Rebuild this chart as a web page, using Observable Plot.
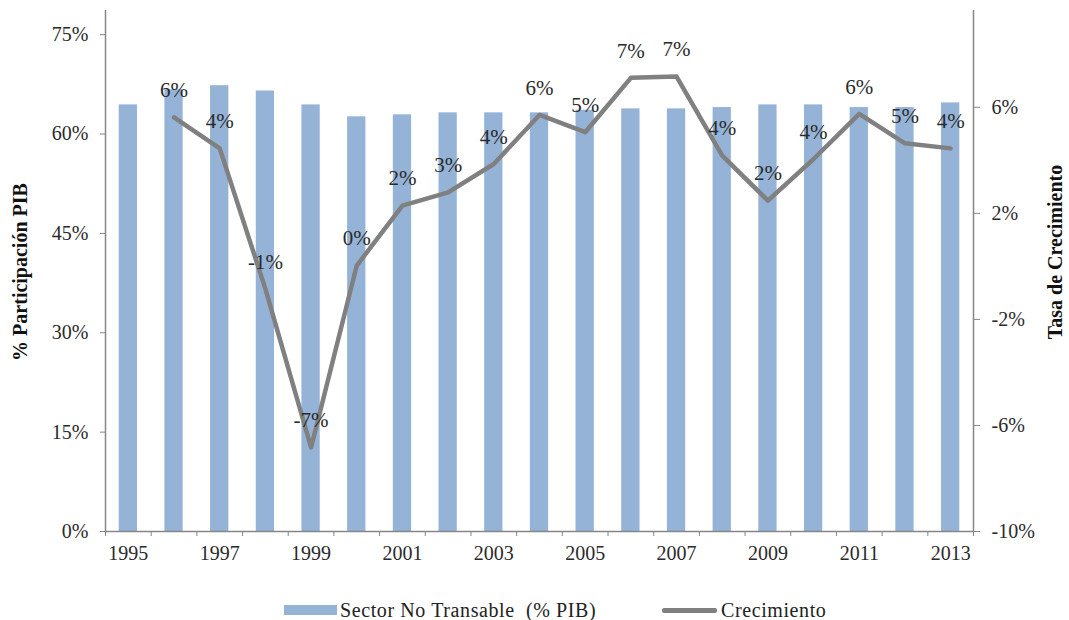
<!DOCTYPE html>
<html><head><meta charset="utf-8">
<script src="https://cdn.jsdelivr.net/npm/d3@7"></script>
<script src="https://cdn.jsdelivr.net/npm/@observablehq/plot@0.6"></script>
<style>
body{margin:0;background:#fff;font-family:"Liberation Serif","Times New Roman",serif;}
#wrap{position:relative;width:1069px;height:620px;background:#fff;}
#chart{position:absolute;left:0;top:0;}
.sw{position:absolute;}
.lt{position:absolute;line-height:24px;white-space:pre;font-size:20px;color:#222;letter-spacing:0.6px;}
</style></head><body>
<div id="wrap">
  <div id="chart"></div>
  <div class="sw" style="left:284px;top:605px;width:53px;height:10px;background:#95B3D7;"></div>
  <div class="lt" id="lg1" style="left:340px;top:598px;"></div>
  <div class="sw" style="left:662px;top:608px;width:55px;height:5px;border-radius:2px;background:#808080;"></div>
  <div class="lt" id="lg2" style="left:721px;top:598px;"></div>
</div>
<script>
const years = [1995,1996,1997,1998,1999,2000,2001,2002,2003,2004,2005,2006,2007,2008,2009,2010,2011,2012,2013];
const shareNoTransable = [0.644,0.667,0.673,0.665,0.644,0.626,0.629,0.632,0.632,0.632,0.636,0.638,0.638,0.640,0.644,0.644,0.640,0.640,0.647];
const growthYears = [1996,1997,1998,1999,2000,2001,2002,2003,2004,2005,2006,2007,2008,2009,2010,2011,2012,2013];
const growth = [0.0562,0.0445,-0.0085,-0.0683,0.0003,0.0229,0.0279,0.0386,0.0571,0.0506,0.0711,0.0716,0.0418,0.0248,0.0405,0.0575,0.0464,0.0445];
const leftTicks = [0,0.15,0.30,0.45,0.60,0.75];
const rightTicks = [-0.10,-0.06,-0.02,0.02,0.06];
const xLabelYears = [1995,1997,1999,2001,2003,2005,2007,2009,2011,2013];
const seriesNames = ["Sector No Transable  (% PIB)", "Crecimiento"];
const axisTitles = ["% Participación PIB", "Tasa de Crecimiento"];

document.getElementById("lg1").textContent = seriesNames[0];
document.getElementById("lg2").textContent = seriesNames[1];

const leftMax = 0.7865, rightMin = -0.10, rightMax = 0.0965;
const toLeft = v => (v - rightMin) / (rightMax - rightMin) * leftMax;
const fromLeft = u => u / leftMax * (rightMax - rightMin) + rightMin;

const barRows = years.map((y, i) => ({year: y, share: shareNoTransable[i]}));
const lineRows = growthYears.map((y, i) => ({year: y, growth: growth[i]}));
const boundaries = years.map(y => y - 0.5).concat([years[years.length - 1] + 0.5]);
const pct = v => Math.round(v * 100) + "%";

const axisColor = "#868686";
const textColor = "#2a2a2a";

const chart = Plot.plot({
  width: 1069, height: 580,
  marginLeft: 105, marginRight: 96, marginTop: 10, marginBottom: 49,
  x: {type: "linear", domain: [years[0] - 0.5, years[years.length - 1] + 0.5], axis: null},
  y: {domain: [0, leftMax], axis: null},
  style: {fontFamily: "Liberation Serif, Times New Roman, serif", fontSize: "20px", background: "#fff", color: textColor, overflow: "visible"},
  marks: [
    Plot.rectY(barRows, {x1: d => d.year - 0.2, x2: d => d.year + 0.2, y1: 0, y2: "share", fill: "#95B3D7"}),
    Plot.ruleX([years[0] - 0.5, years[years.length - 1] + 0.5], {stroke: axisColor, strokeWidth: 1.5}),
    Plot.ruleY([0], {stroke: axisColor, strokeWidth: 1.5}),
    Plot.axisY({ticks: leftTicks, anchor: "left", label: null, tickSize: 5, tickPadding: 12, tickFormat: pct, stroke: axisColor, fill: textColor, fontSize: 20}),
    Plot.axisY({ticks: rightTicks.map(toLeft), anchor: "right", label: null, tickSize: 6, tickPadding: 12, tickFormat: d => pct(fromLeft(d)), stroke: axisColor, fill: textColor, fontSize: 20}),
    Plot.axisX({ticks: boundaries, anchor: "bottom", label: null, tickSize: 5, tickFormat: () => "", stroke: axisColor}),
    Plot.axisX({ticks: xLabelYears, anchor: "bottom", label: null, tickSize: 0, tickPadding: 14, tickFormat: d => String(d), fill: textColor, fontSize: 20}),
    Plot.line(lineRows, {x: "year", y: d => toLeft(d.growth), stroke: "#808080", strokeWidth: 4.5, strokeLinejoin: "round"}),
    Plot.text(lineRows, {x: "year", y: d => toLeft(d.growth), text: d => pct(d.growth), dy: -27, fontSize: 21, fill: textColor}),
    Plot.text([axisTitles[0]], {frameAnchor: "left", textAnchor: "middle", rotate: -90, dx: -85, dy: 1, fontWeight: "bold", fontSize: 20, fill: "#111"}),
    Plot.text([axisTitles[1]], {frameAnchor: "right", textAnchor: "middle", rotate: -90, dx: 82, dy: -19, fontWeight: "bold", fontSize: 20, fill: "#111"})
  ]
});
document.getElementById("chart").appendChild(chart);
</script>
</body></html>
